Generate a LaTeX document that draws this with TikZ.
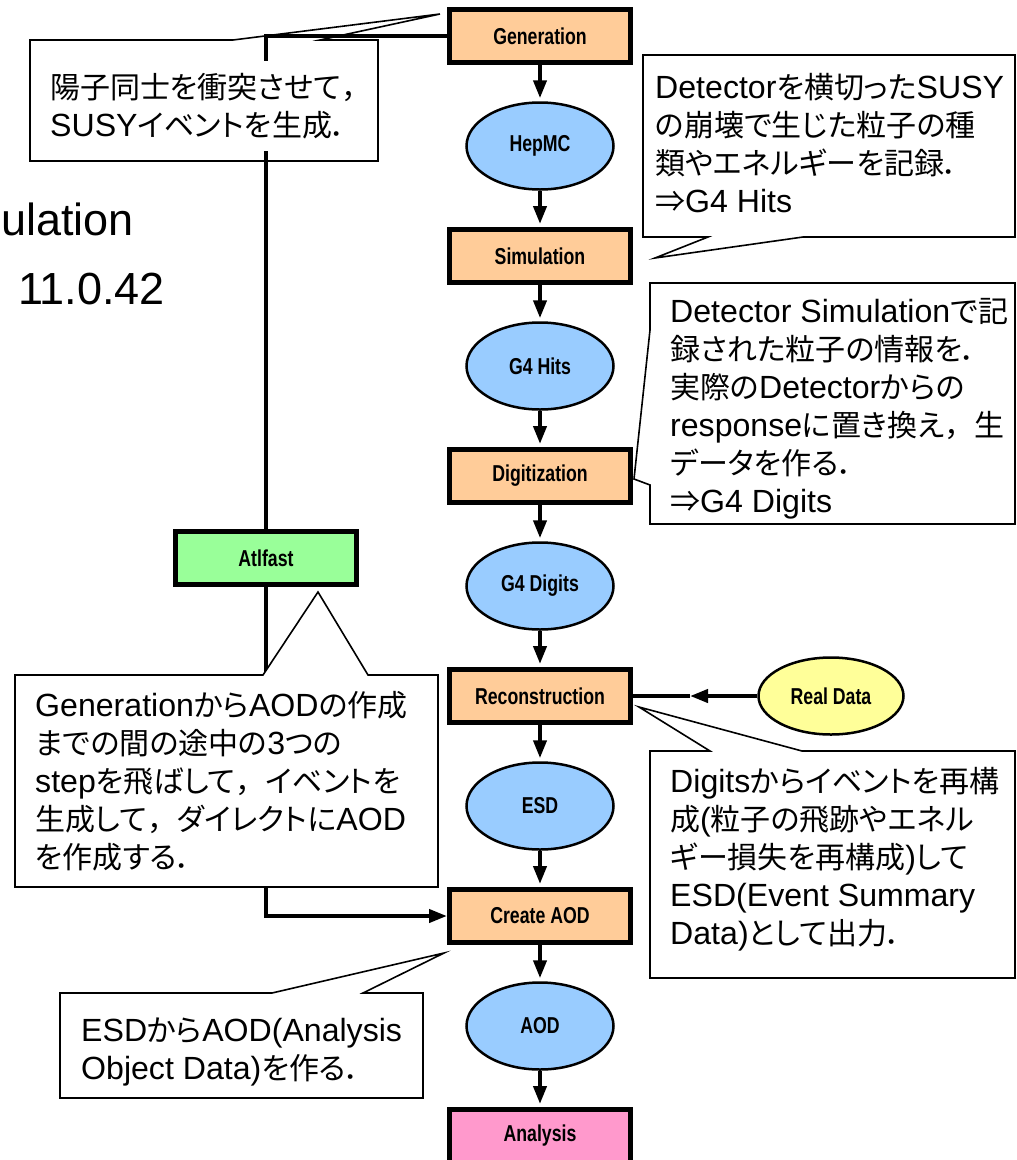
\documentclass[tikz,border=0pt]{standalone}
\usepackage{fontspec}
\setmainfont{Liberation Sans}
\newfontfamily\jpfont[RawFeature=+palt]{Noto Sans CJK JP}
\newfontfamily\jpwide{Noto Sans CJK JP}
\newfontfamily\latfont[Scale=1.07]{Liberation Sans}
\newfontfamily\boxfont[FakeStretch=0.77]{Liberation Sans}
\usetikzlibrary{arrows.meta, positioning, shapes.geometric}
\newcommand{\eng}[1]{{\latfont #1}}
\newcommand{\wcomma}{{\jpwide ，}}
\definecolor{stagefill}{HTML}{FFCC99}
\definecolor{datafill}{HTML}{99CCFF}
\definecolor{fastfill}{HTML}{99FF99}
\definecolor{anafill}{HTML}{FF99CC}
\definecolor{realfill}{HTML}{FFFF99}
\tikzset{
    %Define standard arrow tip
    >={Triangle[length=18pt,width=13pt]},
    %Define style for stage boxes
    stage/.style={
           rectangle,
           draw=black, line width=5pt,
           fill=stagefill,
           minimum width=181pt,
           minimum height=53pt,
           font=\boxfont\bfseries\fontsize{23}{27}\selectfont},
    % Define style for data ellipses
    datum/.style={
           ellipse,
           draw=black, line width=2.5pt,
           fill=datafill,
           minimum width=147pt,
           minimum height=87pt,
           inner sep=0pt,
           font=\boxfont\bfseries\fontsize{23}{27}\selectfont},
    % Define arrow style
    pil/.style={
           ->,
           line width=4pt,
           shorten >=3pt},
    link/.style={line width=4pt},
    % Define callout styles
    callout/.style={draw=black, line width=1.6pt, fill=white},
    calltext/.style={
           anchor=north west,
           align=left,
           fill=white,
           inner xsep=2pt, inner ysep=3pt,
           font=\jpfont\fontsize{30}{38}\selectfont},
    bigtext/.style={font=\fontsize{45}{50}\selectfont, inner sep=0pt}
}

\begin{document}
\begin{tikzpicture}[x=1pt, y=-1pt, node distance=110pt, on grid]
\useasboundingbox (0,0) rectangle (1017,1160);

% Main chain
\node[stage] (gen) at (540,36) {Generation};
\node[datum] (hep) [below = of gen] {HepMC};
\node[stage] (sim) [below = of hep] {Simulation};
\node[datum] (hits) [below = of sim] {G4 Hits};
\node[stage] (digi) [below = of hits] {Digitization};
\node[datum] (digits) [below = of digi] {G4 Digits};
\node[stage] (rec) [below = of digits] {Reconstruction};
\node[datum] (esd) [below = of rec] {ESD};
\node[stage] (cao) [below = of esd] {Create AOD};
\node[datum] (aod) [below = of cao] {AOD};
\node[stage, fill=anafill] (ana) [below = of aod] {Analysis};
% Side inputs
\node[stage, fill=fastfill] (atl) at (266,558) {Atlfast};
\node[datum, fill=realfill, minimum width=145pt, minimum height=77pt] (rd) [right = 291pt of rec] {Real Data};
\coordinate[right = 150pt of rec] (rdin);

% Title fragment
\node[bigtext, anchor=base west] (simname) at (1,235) {ulation};
\node[bigtext, anchor=base west] (relver) at (18,304) {11.0.42};

% Callout outlines
\draw[callout] (30,40) -- (233,40) -- (440,14) -- (320,40) -- (378,40) -- (378,161) -- (30,161) -- cycle;
\draw[callout] (643,55) -- (1015,55) -- (1015,237) -- (803,237) -- (655,258) -- (708,237) -- (643,237) -- cycle;
\draw[callout] (650,283) -- (1015,283) -- (1015,524) -- (650,524) -- (650,485) -- (634,479) -- (650,330) -- cycle;
\draw[callout] (650,751) -- (710,751) -- (639,707) -- (802,751) -- (1015,751) -- (1015,978) -- (650,978) -- cycle;
\draw[callout] (60,993) -- (272,993) -- (444,953) -- (363,993) -- (423,993) -- (423,1098) -- (60,1098) -- cycle;

% Fast simulation path
\draw[link] (gen.west) -| (atl.north);
\draw[pil, shorten >=0pt] (atl.south) |- (cao.west);
\draw[callout] (15,675) -- (263,675) -- (318,592) -- (368,675) -- (438,675) -- (438,887) -- (15,887) -- cycle;

% Real data input
\draw[pil, shorten >=0pt] (rd) -- (rdin);
\draw[link] (rdin) -- (rec);

\path
% full chain
(gen) edge[pil] (hep)
(hep) edge[pil] (sim)
(sim) edge[pil] (hits)
(hits) edge[pil] (digi)
(digi) edge[pil] (digits)
(digits) edge[pil] (rec)
% after reconstruction
(rec) edge[pil] (esd)
(esd) edge[pil] (cao)
(cao) edge[pil] (aod)
(aod) edge[pil] (ana);

% Callout texts
\node[calltext, inner ysep=12pt] (notegen) at (48,61) {陽子同士を衝突させて\wcomma\\\eng{SUSY}イベントを生成．};
\node[calltext] (notesim) at (653,70) {\eng{Detector}を横切った\eng{SUSY}\\の崩壊で生じた粒子の種\\類やエネルギーを記録．\\⇒\eng{G4 Hits}};
\node[calltext] (notedigi) at (668,295) {\eng{Detector Simulation}で記\\録された粒子の情報を．\\実際の\eng{Detector}からの\\\eng{response}に置き換え\wcomma 生\\データを作る．\\⇒\eng{G4 Digits}};
\node[calltext] (notefast) at (33,688) {\eng{Generation}から\eng{AOD}の作成\\までの間の途中の\eng{3}つの\\\eng{step}を飛ばして\wcomma イベントを\\生成して\wcomma ダイレクトに\eng{AOD}\\を作成する．};
\node[calltext] (noterec) at (668,764) {\eng{Digits}からイベントを再構\\成\eng{(}粒子の飛跡やエネル\\ギー損失を再構成\eng{)}して\\\eng{ESD(Event Summary}\\\eng{Data)}として出力．};
\node[calltext] (noteaod) at (79,1015) {\eng{ESD}から\eng{AOD(Analysis}\\\eng{Object Data)}を作る．};

\end{tikzpicture}
\end{document}
